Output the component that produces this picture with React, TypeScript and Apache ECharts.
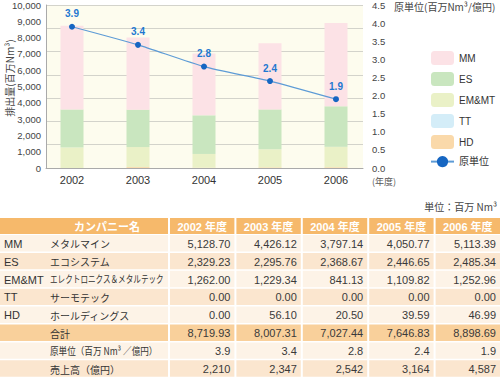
import React, { useEffect, useRef } from "react";
import * as echarts from "echarts";

const years = ["2002", "2003", "2004", "2005", "2006"];
const mm = [5128.7, 4426.12, 3797.14, 4050.77, 5113.39];
const es = [2329.23, 2295.76, 2368.67, 2446.65, 2485.34];
const emmt = [1262.0, 1229.34, 841.13, 1109.82, 1252.96];
const tt = [0, 0, 0, 0, 0];
const hd = [0, 56.1, 20.5, 39.59, 46.99];
const totals = [8719.93, 8007.31, 7027.44, 7646.83, 8898.69];
const intensity = [3.9, 3.4, 2.8, 2.4, 1.9];
const sales = [2210, 2347, 2542, 3164, 4587];

const codes = ["MM", "ES", "EM&MT", "TT", "HD"];
const names = ["メタルマイン", "エコシステム", "エレクトロニクス＆メタルテック", "サーモテック", "ホールディングス"];
const headerYears = ["2002 年度", "2003 年度", "2004 年度", "2005 年度", "2006 年度"];

const FONT = "Liberation Sans, Arial, Noto Sans CJK JP, sans-serif";

const fmt2 = (v: number) =>
  v.toLocaleString("en-US", { minimumFractionDigits: 2, maximumFractionDigits: 2 });
const fmt0 = (v: number) => v.toLocaleString("en-US");

function buildTable(): any[] {
  const els: any[] = [];
  const colX = [0, 168, 234.4, 300.8, 367.2, 433.6, 500];
  const headerY = 218;
  const headerH = 16;
  const rowY0 = 235;
  const rowH = 17.9;
  for (let c = 0; c < 6; c++) {
    const x0 = colX[c] + (c === 0 ? 0 : 2);
    els.push({
      type: "rect",
      shape: { x: x0, y: headerY, width: colX[c + 1] - x0, height: headerH },
      style: { fill: "#f6b96b" },
    });
    const text = c === 0 ? "カンパニー名" : headerYears[c - 1];
    els.push({
      type: "text",
      x: c === 0 ? 107 : (x0 + colX[c + 1]) / 2,
      y: headerY + headerH / 2 + 0.5,
      style: {
        text,
        fill: "#ffffff",
        fontSize: 11,
        fontWeight: "bold",
        fontFamily: FONT,
        textAlign: "center",
        verticalAlign: "middle",
      },
    });
  }
  type Row = { code: string; name: string; vals: string[]; bg: string; scale: number };
  const rows: Row[] = [];
  const series = [mm, es, emmt, tt, hd];
  for (let i = 0; i < 5; i++) {
    rows.push({
      code: codes[i],
      name: names[i],
      vals: series[i].map(fmt2),
      bg: i % 2 === 0 ? "#fdf3e7" : "#fbe6cf",
      scale: names[i].length > 10 ? 0.76 : 1,
    });
  }
  rows.push({ code: "", name: "合計", vals: totals.map(fmt2), bg: "#f9d09b", scale: 1 });
  rows.push({ code: "", name: "原単位（百万 Nm³ ／億円）", vals: intensity.map((v) => v.toFixed(1)), bg: "#fdf3e7", scale: 0.86 });
  rows.push({ code: "", name: "売上高（億円）", vals: sales.map(fmt0), bg: "#fbe6cf", scale: 1 });

  rows.forEach((r, i) => {
    const y = rowY0 + i * rowH;
    const h = rowH - 1.5;
    for (let c = 0; c < 6; c++) {
      const x0 = colX[c] + (c === 0 ? 0 : 2);
      els.push({
        type: "rect",
        shape: { x: x0, y, width: colX[c + 1] - x0, height: h },
        style: { fill: r.bg },
      });
      if (c > 0) {
        els.push({
          type: "text",
          x: colX[c + 1] - 4,
          y: y + h / 2 + 0.5,
          style: {
            text: r.vals[c - 1],
            fill: "#3a3a3a",
            fontSize: 11,
            fontFamily: FONT,
            textAlign: "right",
            verticalAlign: "middle",
          },
        });
      }
    }
    if (r.code) {
      els.push({
        type: "text",
        x: 4,
        y: y + h / 2 + 0.5,
        style: {
          text: r.code,
          fill: "#333",
          fontSize: 11,
          fontFamily: FONT,
          textAlign: "left",
          verticalAlign: "middle",
        },
      });
    }
    els.push({
      type: "text",
      x: 50,
      y: y + h / 2 + 0.5,
      scaleX: r.scale,
      style: {
        text: r.name,
        fill: "#333",
        fontSize: 10,
        fontFamily: "Noto Sans CJK JP, sans-serif",
        textAlign: "left",
        verticalAlign: "middle",
      },
    });
  });
  els.push({
    type: "text",
    x: 497,
    y: 206,
    style: {
      text: "単位：百万 Nm³",
      fill: "#444",
      fontSize: 10,
      fontFamily: "Noto Sans CJK JP, sans-serif",
      textAlign: "right",
      verticalAlign: "middle",
    },
  });
  return els;
}

export default function App() {
  const ref = useRef<HTMLDivElement>(null);
  useEffect(() => {
    if (!ref.current) return;
    const chart = echarts.init(ref.current, undefined, { renderer: "svg" });
    const axisLabelStyle = { color: "#444", fontSize: 9.5, fontFamily: FONT };
    const barColors: Record<string, string> = {
      MM: "#fce2e6",
      ES: "#c9e6bf",
      "EM&MT": "#eaf1c7",
      TT: "#d4edf8",
      HD: "#fad9aa",
    };
    const barSeries = [
      { name: "HD", data: hd },
      { name: "TT", data: tt },
      { name: "EM&MT", data: emmt },
      { name: "ES", data: es },
      { name: "MM", data: mm },
    ].map((s) => ({
      type: "bar",
      name: s.name,
      data: s.data,
      stack: "total",
      barWidth: 23,
      xAxisIndex: 1,
      yAxisIndex: 3,
      itemStyle: { color: barColors[s.name] },
    }));

    chart.setOption({
      animation: false,
      textStyle: { fontFamily: FONT },
      grid: [
        { left: 46, right: 137, top: 5, height: 163, show: true, backgroundColor: "#fdfcee", borderWidth: 0 },
        { left: 39, right: 131, top: 5, height: 163 },
      ],
      legend: {
        orient: "vertical",
        left: 430,
        top: 51,
        padding: 0,
        itemWidth: 23,
        itemHeight: 14,
        itemGap: 7,
        data: ["MM", "ES", "EM&MT", "TT", "HD", "原単位"],
        textStyle: { fontSize: 10, color: "#333", fontFamily: FONT },
      },
      xAxis: [
        {
          type: "category",
          gridIndex: 0,
          data: years,
          axisLabel: { show: false },
          axisTick: { show: false },
          axisLine: { show: true, lineStyle: { color: "#aaa", width: 1 } },
        },
        {
          type: "category",
          gridIndex: 1,
          data: years,
          axisLabel: { color: "#333", fontSize: 11, margin: 6, fontFamily: FONT },
          axisTick: { show: false },
          axisLine: { show: false },
        },
      ],
      yAxis: [
        {
          type: "value",
          gridIndex: 0,
          min: 0,
          max: 10000,
          interval: 1000,
          position: "left",
          axisLabel: { ...axisLabelStyle, margin: 5, formatter: (v: number) => fmt0(v) },
          axisLine: { show: true, lineStyle: { color: "#aaa" } },
          axisTick: { show: false },
          splitLine: { show: false },
        },
        {
          type: "value",
          gridIndex: 0,
          min: 0,
          max: 4.5,
          interval: 0.5,
          position: "right",
          axisLabel: { ...axisLabelStyle, margin: 9, formatter: (v: number) => v.toFixed(1) },
          axisLine: { show: false },
          axisTick: { show: false },
          splitLine: { show: false },
        },
        {
          type: "value",
          gridIndex: 0,
          min: 0,
          max: 7,
          interval: 1,
          position: "left",
          axisLabel: { show: false },
          axisLine: { show: false },
          axisTick: { show: false },
          splitLine: { show: true, lineStyle: { color: "#d3d3cb", width: 1 } },
        },
        { type: "value", gridIndex: 1, min: 0, max: 10000, show: false, splitLine: { show: false } },
        { type: "value", gridIndex: 1, min: 0, max: 4.5, show: false, splitLine: { show: false } },
      ],
      series: [
        ...barSeries,
        {
          type: "line",
          name: "原単位",
          data: intensity,
          xAxisIndex: 1,
          yAxisIndex: 4,
          smooth: 0.2,
          symbol: "circle",
          symbolSize: 6,
          lineStyle: { color: "#5d9bd6", width: 1.2 },
          itemStyle: { color: "#1666c2" },
          label: {
            show: true,
            position: "top",
            distance: 5,
            color: "#1f78d1",
            fontSize: 10,
            fontWeight: "bold",
            fontFamily: FONT,
            formatter: (p: any) => Number(p.value).toFixed(1),
          },
          z: 5,
        },
      ],
      graphic: [
        {
          type: "text",
          x: 9,
          y: 78,
          rotation: Math.PI / 2,
          style: {
            text: "排出量(百万Nm³)",
            fill: "#444",
            fontSize: 10,
            fontFamily: "Noto Sans CJK JP, sans-serif",
            textAlign: "center",
            verticalAlign: "middle",
          },
        },
        {
          type: "text",
          x: 394,
          y: 6,
          style: {
            text: "原単位(百万Nm³/億円)",
            fill: "#444",
            fontSize: 10,
            fontFamily: "Noto Sans CJK JP, sans-serif",
            textAlign: "left",
            verticalAlign: "middle",
          },
        },
        {
          type: "text",
          x: 372,
          y: 181,
          style: {
            text: "(年度)",
            fill: "#555",
            fontSize: 9,
            fontFamily: "Noto Sans CJK JP, sans-serif",
            textAlign: "left",
            verticalAlign: "middle",
          },
        },
        ...buildTable(),
      ],
    });
    return () => chart.dispose();
  }, []);
  return (
    <div
      ref={ref}
      style={{ position: "absolute", left: 0, top: 0, width: 500, height: 380, background: "#ffffff" }}
    />
  );
}
